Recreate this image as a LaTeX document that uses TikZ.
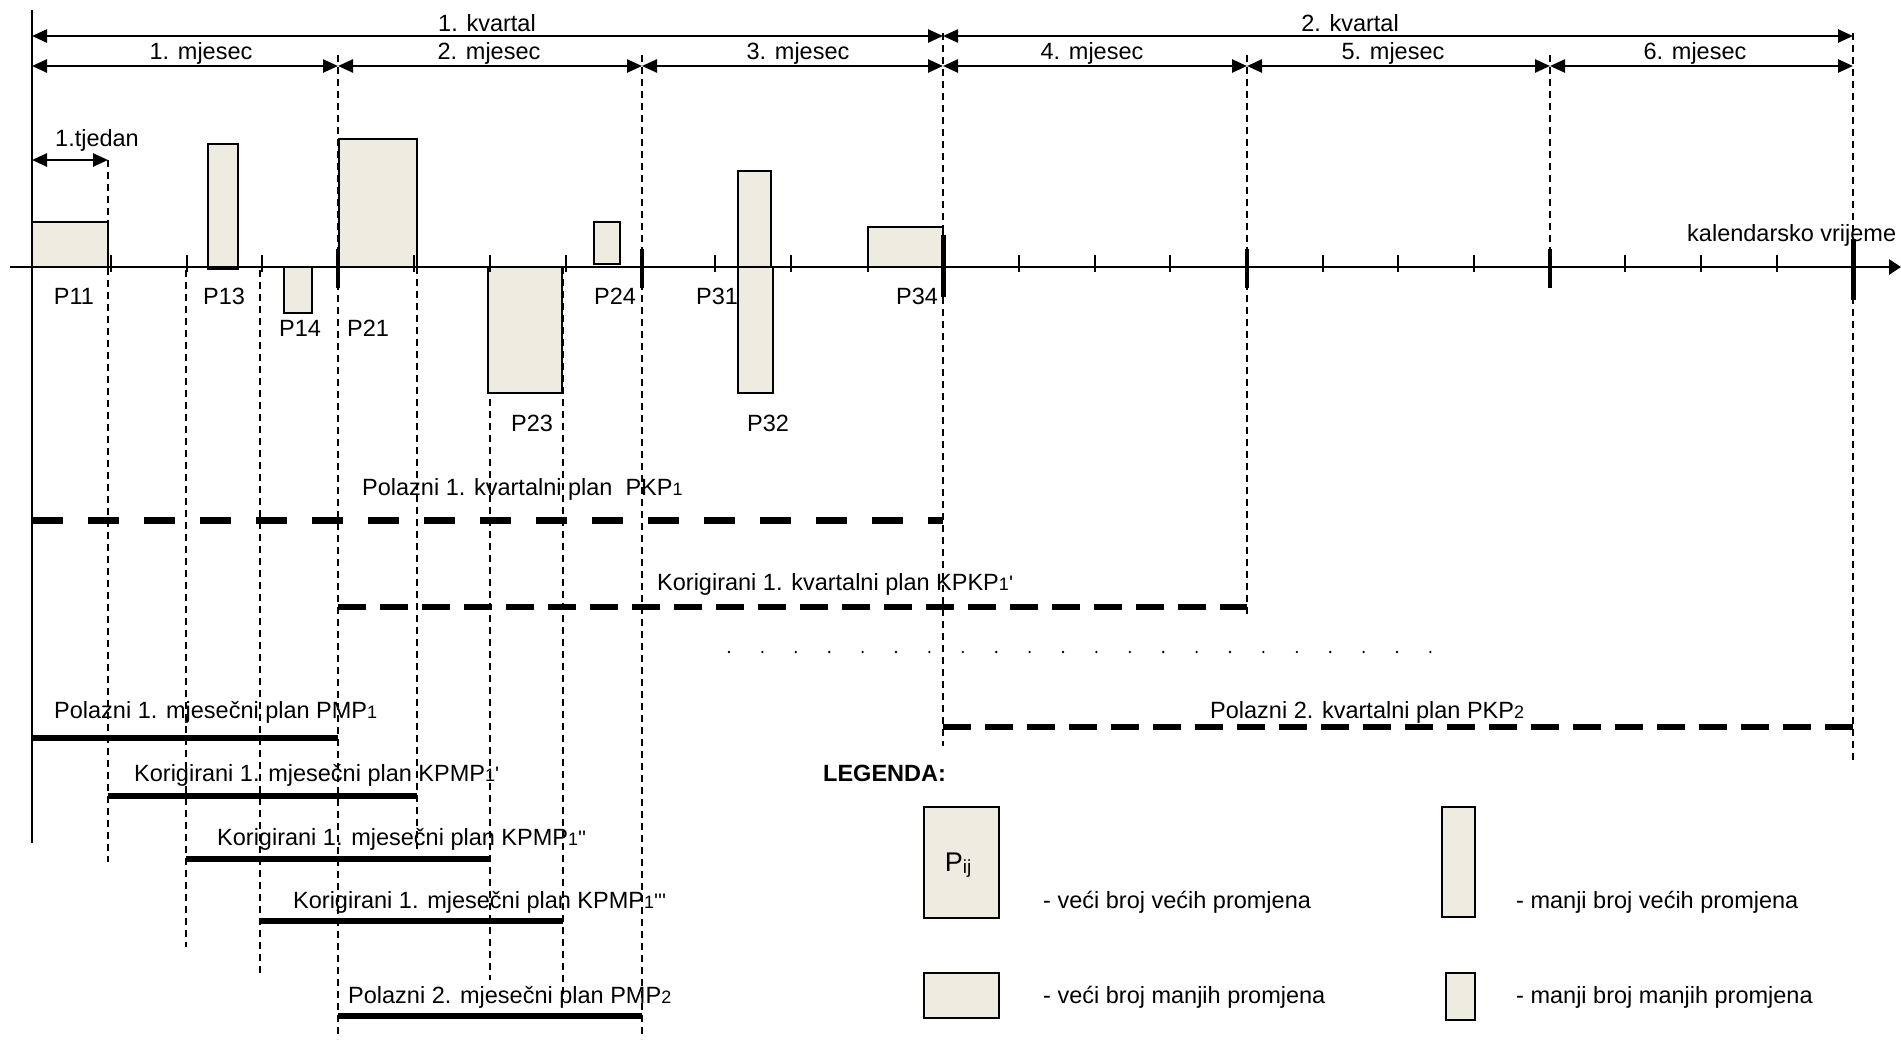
\documentclass[tikz,border=0pt]{standalone}
\usepackage{fontspec}
\setmainfont{Liberation Sans}
\usetikzlibrary{arrows.meta}

\definecolor{boxfill}{RGB}{238,236,225}
\newcommand{\idx}[1]{{\fontsize{18}{18}\selectfont #1}}
\newcommand{\pr}{{\fontsize{21}{21}\selectfont\textquotesingle}}

\tikzset{
  dim/.style={line width=2.5pt,
    {Triangle[length=15pt,width=13pt]}-{Triangle[length=15pt,width=13pt]}},
  griddash/.style={line width=1.4pt, dash pattern=on 7pt off 5pt},
  chg/.style={draw, line width=1.8pt, fill=boxfill},
  qplan/.style={line width=7pt, dash pattern=on 31pt off 25pt},
  kplan/.style={line width=5.5pt, dash pattern=on 28pt off 14pt},
  mplan/.style={line width=6pt},
  lbl/.style={anchor=base west, inner sep=0pt},
  plbl/.style={anchor=base, inner sep=0pt}
}

\begin{document}
\begin{tikzpicture}[x=1pt, y=-1pt, font=\fontsize{23.5}{28}\selectfont]
  \useasboundingbox (0,0) rectangle (1901,1039);

  % month and quarter boundaries
  \coordinate (b0) at (32,0);
  \coordinate (b1) at (338,0);
  \coordinate (b2) at (642,0);
  \coordinate (b3) at (943,0);
  \coordinate (b4) at (1247,0);
  \coordinate (b5) at (1550,0);
  \coordinate (b6) at (1853,0);

  % dashed drop lines
  \foreach \x/\a/\b in {108/160/862, 186/270/947, 260/270/977, 338/55/1039,
      417/267/849, 490/267/980, 563/267/1000, 642/55/1039, 943/33/746,
      1247/55/618, 1550/55/267, 1853/33/763}
    \draw[griddash] (\x,\a) -- (\x,\b);

  \draw[line width=1.5pt] (32,10) -- (32,843);

  % quarters and months
  \draw[dim] (b0 |- 0,36) -- (b3 |- 0,36);
  \draw[dim] (b3 |- 0,36) -- (b6 |- 0,36);
  \foreach \i [count=\j from 1] in {0,...,5}
    \draw[dim] (b\i |- 0,66) -- (b\j |- 0,66);
  \node[plbl] (q1) at (487,31) {1. kvartal};
  \node[plbl] (q2) at (1350,31) {2. kvartal};
  \node[plbl] (mj1) at (201,59) {1. mjesec};
  \node[plbl] (mj2) at (489,59) {2. mjesec};
  \node[plbl] (mj3) at (798,59) {3. mjesec};
  \node[plbl] (mj4) at (1092,59) {4. mjesec};
  \node[plbl] (mj5) at (1393,59) {5. mjesec};
  \node[plbl] (mj6) at (1695,59) {6. mjesec};

  \draw[dim] (32,160) -- (108,160);
  \node[plbl] (tj) at (97,146) {1.tjedan};

  % changes
  \draw[chg] (32,222) rectangle (108,267);
  \draw[chg] (208,144) rectangle (238,269);
  \draw[chg] (284,267) rectangle (312,313);
  \draw[chg] (339,139) rectangle (417,267);
  \draw[chg] (488,267) rectangle (562,393);
  \draw[chg] (594,222) rectangle (620,264);
  \draw[chg] (738,171) rectangle (771,267);
  \draw[chg] (738,267) rectangle (773,393);
  \draw[chg] (868,227) rectangle (943,267);

  % time axis
  \draw[line width=2.8pt, -{Triangle[length=12pt,width=15pt]}] (10,267) -- (1901,267);
  \foreach \x in {111,187,262,414,490,566,715,791,868,1019,1095,1170,1323,1398,1474,1625,1701,1777}
    \draw[line width=1.8pt] (\x,255) -- (\x,272);
  \foreach \x in {338,642,1247,1550}
    \draw[line width=4.5pt] (\x,249) -- (\x,288);
  \foreach \x/\a/\b in {943/235/297, 1853/239/300}
    \draw[line width=5pt] (\x,\a) -- (\x,\b);
  \node[lbl] (kv) at (1687,241) {kalendarsko vrijeme};

  \node[plbl] (p11) at (74,304) {P11};
  \node[plbl] (p13) at (224,304) {P13};
  \node[plbl] (p14) at (300,336) {P14};
  \node[plbl] (p21) at (368,336) {P21};
  \node[plbl] (p23) at (532,431) {P23};
  \node[plbl] (p24) at (615,304) {P24};
  \node[plbl] (p31) at (717,304) {P31};
  \node[plbl] (p32) at (768,431) {P32};
  \node[plbl] (p34) at (917,304) {P34};

  % quarterly plans
  \draw[qplan] (32,520) -- (943,520);
  \node[lbl] (pkp1) at (362,495) {Polazni 1. kvartalni plan \ PKP\idx{1}};
  \draw[kplan] (338,607) -- (1247,607);
  \node[lbl] (kpkp1) at (657,590) {Korigirani 1. kvartalni plan KPKP\idx{1}\pr};
  \foreach \i in {0,...,21}
    \fill ({729+33.4*\i},652) circle (1.3);
  \draw[kplan] (943,727) -- (1853,727);
  \node[lbl] (pkp2) at (1210,718) {Polazni 2. kvartalni plan PKP\idx{2}};

  % monthly plans
  \draw[mplan] (32,738) -- (338,738);
  \node[lbl] (pmp1) at (54,718) {Polazni 1. mjesečni plan PMP\idx{1}};
  \draw[mplan] (108,796) -- (417,796);
  \node[lbl] (kpmp1) at (134,781) {Korigirani 1. mjesečni plan KPMP\idx{1}\pr};
  \draw[mplan] (186,859) -- (490,859);
  \node[lbl] (kpmp2) at (217,845) {Korigirani 1. mjesečni plan KPMP\idx{1}\pr\pr};
  \draw[mplan] (260,921) -- (563,921);
  \node[lbl] (kpmp3) at (293,908) {Korigirani 1. mjesečni plan KPMP\idx{1}\pr\pr\pr};
  \draw[mplan] (338,1016) -- (642,1016);
  \node[lbl] (pmp2) at (348,1003) {Polazni 2. mjesečni plan PMP\idx{2}};

  % legend
  \node[lbl, font=\fontsize{23.5}{28}\selectfont\bfseries] (leg) at (823,781) {LEGENDA:};
  \draw[chg] (924,807) rectangle (999,918);
  \node (pij) at (958,865) {\fontsize{27}{30}\selectfont P\raisebox{-2pt}{\fontsize{19}{19}\selectfont ij}};
  \node[lbl] (l1) at (1043,908) {- veći broj većih promjena};
  \draw[chg] (924,973) rectangle (999,1018);
  \node[lbl] (l2) at (1043,1003) {- veći broj manjih promjena};
  \draw[chg] (1442,807) rectangle (1475,917);
  \node[lbl] (l3) at (1516,908) {- manji broj većih promjena};
  \draw[chg] (1446,973) rectangle (1475,1020);
  \node[lbl] (l4) at (1516,1003) {- manji broj manjih promjena};
\end{tikzpicture}
\end{document}
